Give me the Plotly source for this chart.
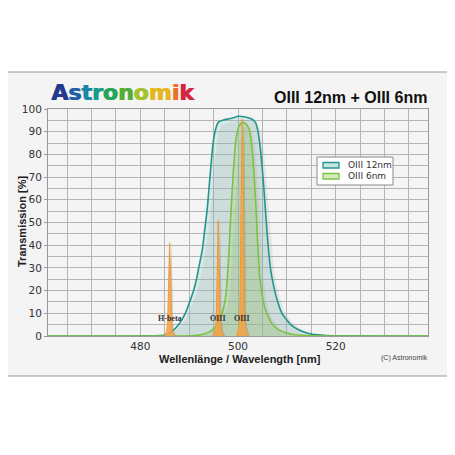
import plotly.graph_objects as go

# OIII 12nm filter curve (wavelength nm, transmission %)
oiii12_wl = [461, 478, 482, 484, 485.1, 486.8, 488.0, 489.2, 490.1, 490.9, 491.5, 492.0,
             492.7, 493.2, 493.7, 494.1, 494.5, 494.9, 495.4, 496.0, 497.0, 498.5, 500.0,
             501.5, 502.8, 503.6, 504.1, 504.6, 505.0, 505.4, 505.8, 506.2, 506.7, 507.3,
             508.0, 509.0, 510.0, 510.8, 512.0, 513.5, 515.2, 518, 522, 539]
oiii12_t = [0, 0, 0.1, 0.2, 0.4, 2.6, 5.5, 10, 15, 20, 25, 30.5,
            38, 47, 56, 66, 76, 85, 91, 94.2, 95.2, 95.8, 96.8,
            96.5, 95.6, 94, 90, 82, 73, 62, 50, 39, 29, 22,
            16, 10, 7, 5, 3.2, 1.8, 0.7, 0.2, 0.05, 0]

# OIII 6nm filter curve
oiii6_wl = [461, 489, 491, 492, 493.5, 494.7, 495.5, 496.1, 496.7, 497.1, 497.5, 497.8,
            498.1, 498.4, 498.7, 499.1, 499.6, 500.2, 500.9, 501.6, 502.2, 502.7, 503.1,
            503.4, 503.7, 503.9, 504.2, 504.5, 504.9, 505.5, 506.3, 507.3, 508.4, 510.8,
            514, 539]
oiii6_t = [0, 0, 0.2, 0.4, 1.2, 2.6, 4.3, 6.3, 9.5, 13, 18, 25,
           35, 48, 60, 74, 87, 92.5, 94, 93.5, 91.5, 86, 77,
           67, 56, 46, 34, 25, 18.8, 12.5, 8, 4.5, 2.6, 0.9,
           0.2, 0]

# emission lines
line_names = ["H-beta", "OIII", "OIII"]
line_centers = [486.0, 495.95, 500.85]
hbeta_wl = [485.0, 485.4, 485.6, 485.75, 485.88, 486.0, 486.12, 486.25, 486.4, 486.6, 487.0]
hbeta_t = [0, 2, 6, 18, 32, 41, 32, 18, 6, 2, 0]
oiii496_wl = [494.85, 495.3, 495.55, 495.7, 495.83, 495.95, 496.07, 496.2, 496.35, 496.6, 497.05]
oiii496_t = [0, 2.5, 7.5, 22, 40, 51, 40, 22, 7.5, 2.5, 0]
oiii501_wl = [499.65, 500.2, 500.4, 500.5, 500.68, 500.85, 501.02, 501.2, 501.3, 501.5, 502.05]
oiii501_t = [0, 4, 12, 40, 85, 95.5, 85, 40, 12, 4, 0]

x_ticks = [480, 500, 520]
y_ticks = [0, 10, 20, 30, 40, 50, 60, 70, 80, 90, 100]

logo_letters = list("Astronomik")
logo_colors = ["#22398c", "#1d5ea9", "#1c86a6", "#1b9a8a", "#27a35a", "#55ad35",
               "#a3c22b", "#e6b622", "#e9722a", "#d3283d"]

TEAL = "#23978b"
GREEN = "#7dc243"
ORANGE = "#f09a35"
FONT = "Liberation Sans"

# plot area in page pixels: left 48, right 428, top 109, bottom 336
def px(x):
    return (x - 48) / 380

def py(y):
    return (336 - y) / 227

fig = go.Figure()

# filter curves with soft grey drop shadow
for wl, t, col, fillcol in [
    (oiii12_wl, oiii12_t, TEAL, "rgba(120,195,185,0.22)"),
    (oiii6_wl, oiii6_t, GREEN, "rgba(150,210,100,0.25)"),
]:
    fig.add_trace(go.Scatter(
        x=[w + 0.7 for w in wl], y=[v * 0.985 for v in t],
        mode="lines", line=dict(width=0), fill="tozeroy",
        fillcolor="rgba(150,150,150,0.16)", hoverinfo="skip", showlegend=False))
    fig.add_trace(go.Scatter(
        x=wl, y=t, mode="lines", line=dict(color=col, width=1.6, shape="spline", smoothing=0.6),
        fill="tozeroy", fillcolor=fillcol, showlegend=False))

# emission lines
for wl, t in [(hbeta_wl, hbeta_t), (oiii496_wl, oiii496_t), (oiii501_wl, oiii501_t)]:
    fig.add_trace(go.Scatter(
        x=[w + 0.35 for w in wl], y=t, mode="lines", line=dict(width=0),
        fill="tozeroy", fillcolor="rgba(130,130,130,0.35)", hoverinfo="skip", showlegend=False))
    fig.add_trace(go.Scatter(
        x=wl, y=t, mode="lines", line=dict(color=ORANGE, width=1),
        fill="tozeroy", fillcolor="rgba(245,165,70,0.85)", showlegend=False))

annotations = []
for name, c in zip(line_names, line_centers):
    annotations.append(dict(x=c, y=7.6, xref="x", yref="y", text="<b>" + name + "</b>",
                            showarrow=False, xanchor="center", yanchor="middle",
                            font=dict(family="Liberation Serif", size=8, color="#333")))

# logo drawn twice with a small offset so it looks heavier
logo = "".join(f'<span style="color:{c}">{l}</span>' for l, c in zip(logo_letters, logo_colors))
for dx in (49, 49.8):
    annotations.append(dict(x=px(dx), y=py(93), xref="paper", yref="paper", xanchor="left",
                            yanchor="middle", text="<b>" + logo + "</b>", showarrow=False,
                            font=dict(family="DejaVu Sans", size=22)))

annotations += [
    dict(x=px(429), y=py(97), xref="paper", yref="paper", xanchor="right", yanchor="middle",
         text="<b>OIII 12nm + OIII 6nm</b>", showarrow=False,
         font=dict(family=FONT, size=16, color="#111")),
    dict(x=px(22), y=py(222), xref="paper", yref="paper", textangle=-90,
         xanchor="center", yanchor="middle",
         text="<b>Transmission [%]</b>", showarrow=False,
         font=dict(family=FONT, size=11, color="#222")),
    dict(x=px(240), y=py(359), xref="paper", yref="paper", xanchor="center", yanchor="middle",
         text="<b>Wellenlänge / Wavelength [nm]</b>", showarrow=False,
         font=dict(family=FONT, size=11, color="#222")),
    dict(x=px(404), y=py(358), xref="paper", yref="paper", xanchor="center", yanchor="middle",
         text="(C) Astronomik", showarrow=False,
         font=dict(family=FONT, size=7, color="#444")),
    dict(x=px(346), y=py(165), xref="paper", yref="paper", xanchor="left", yanchor="middle",
         text="OIII 12nm", showarrow=False, font=dict(family="DejaVu Sans", size=9, color="#333")),
    dict(x=px(346), y=py(176), xref="paper", yref="paper", xanchor="left", yanchor="middle",
         text="OIII 6nm", showarrow=False, font=dict(family="DejaVu Sans", size=9, color="#333")),
]

shapes = [
    # outer frame
    dict(type="rect", xref="paper", yref="paper", x0=px(3), x1=px(449), y0=py(376), y1=py(72),
         fillcolor="#f4f4f4", line=dict(color="#9a9a9a", width=1), layer="below"),
    # legend box
    dict(type="rect", xref="paper", yref="paper", x0=px(317), x1=px(393), y0=py(185), y1=py(157),
         fillcolor="white", line=dict(color="#8a8a8a", width=1)),
    dict(type="rect", xref="paper", yref="paper", x0=px(323), x1=px(339), y0=py(168), y1=py(162.5),
         fillcolor="#c5e6e1", line=dict(color=TEAL, width=1.3)),
    dict(type="rect", xref="paper", yref="paper", x0=px(323), x1=px(339), y0=py(179), y1=py(173.5),
         fillcolor="#d5ecc0", line=dict(color=GREEN, width=1.3)),
]

grid = "#b4b4b4"
# the page body adds an 8px offset, so the figure is 8px smaller and margins shifted
fig.update_layout(
    width=447, height=447,
    margin=dict(l=40, r=27, t=101, b=119),
    paper_bgcolor="white", plot_bgcolor="white",
    showlegend=False,
    annotations=annotations, shapes=shapes,
    xaxis=dict(range=[461.1, 538.9], tickvals=x_ticks, ticks="", showgrid=True,
               gridcolor=grid, gridwidth=1, zeroline=False,
               minor=dict(dtick=5, tick0=480, showgrid=True, gridcolor=grid, gridwidth=1),
               showline=True, linecolor="#999", mirror=True, ticklabelstandoff=0,
               tickfont=dict(family="DejaVu Sans", size=10.5, color="#333")),
    yaxis=dict(range=[0, 100], tickvals=y_ticks, ticks="outside", ticklen=3, tickcolor="#999",
               showgrid=True, gridcolor=grid, gridwidth=1, zeroline=False,
               minor=dict(dtick=5, showgrid=True, gridcolor=grid, gridwidth=1),
               showline=True, linecolor="#999", mirror=True,
               tickfont=dict(family="DejaVu Sans", size=10.5, color="#333")),
)

fig.write_html("out.html")
